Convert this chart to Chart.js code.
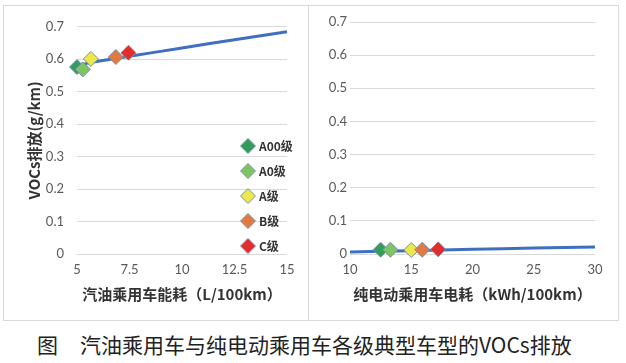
<!DOCTYPE html>
<html>
<head>
<meta charset="utf-8">
<script src="https://cdn.jsdelivr.net/npm/chart.js@4.4.0/dist/chart.umd.min.js"></script>
<style>
  body { margin: 0; background: #fff; width: 626px; height: 363px; position: relative; overflow: hidden; }
  .panel { position: absolute; top: 5px; height: 316px; border: 1px solid #d9d9d9; box-sizing: border-box; }
  .panel canvas { position: absolute; left: 0; top: 0; }
  #caption { position: absolute; left: 37px; top: 329px; font: 21px "Noto Sans CJK SC", sans-serif; color: #222; white-space: nowrap; }
  #caption span { margin-left: 22px; }
</style>
</head>
<body>
<div class="panel" style="left:3px;width:306px"><canvas id="gasChart" width="304" height="314"></canvas></div>
<div class="panel" style="left:308px;width:311px"><canvas id="evChart" width="309" height="314"></canvas></div>
<div id="caption">图<span>汽油乘用车与纯电动乘用车各级典型车型的VOCs排放</span></div>
<script>
// vehicle classes
const classes = ['A00级', 'A0级', 'A级', 'B级', 'C级'];
const classColors = ['#2f9e5a', '#7dc462', '#ebe84c', '#e07a3e', '#e62b2d'];

// gasoline cars: fuel use (L/100km) and VOCs (g/km) per class
const gasUse = [5.0, 5.28, 5.66, 6.85, 7.45];
const gasVOC = [0.576, 0.569, 0.601, 0.607, 0.620];
// gasoline fit line
const gasLineX = [5, 5.5, 6, 7.5, 10, 12.5, 15];
const gasLineY = [0.576, 0.588, 0.594, 0.609, 0.635, 0.660, 0.685];

// electric cars: power use (kWh/100km) and VOCs (g/km) per class
const evUse = [12.5, 13.3, 15.0, 15.9, 17.2];
const evVOC = [0.013, 0.013, 0.012, 0.013, 0.014];
// electric fit line
const evLineX = [10, 15, 20, 25, 30];
const evLineY = [0.006, 0.010, 0.014, 0.018, 0.021];

const yTicks = [0, 0.1, 0.2, 0.3, 0.4, 0.5, 0.6, 0.7];
const gasTicks = [5, 7.5, 10, 12.5, 15];
const evTicks = [10, 15, 20, 25, 30];

const tickFont = { family: 'Lato, "Open Sans", sans-serif', size: 13 };
const titleFont = { family: '"Noto Sans CJK SC", sans-serif', size: 15, weight: 'bold' };

function buildDatasets(xs, ys, lx, ly) {
  const sets = classes.map((c, i) => ({
    type: 'scatter',
    label: c,
    data: [{ x: xs[i], y: ys[i] }],
    pointStyle: 'rectRot',
    pointRadius: 7.5,
    pointHoverRadius: 7.5,
    backgroundColor: classColors[i],
    borderColor: '#7d8ea8',
    borderWidth: 1,
    clip: false,
    order: 5 - i
  }));
  sets.push({
    type: 'line',
    label: 'fit',
    data: lx.map((x, i) => ({ x: x, y: ly[i] })),
    borderColor: '#3f6fbf',
    borderWidth: 3,
    pointRadius: 0,
    tension: 0.3,
    clip: false,
    order: 10
  });
  return sets;
}

// legend drawn inside the plot, right side
const diamondLegend = {
  id: 'diamondLegend',
  afterDraw(chart) {
    const ctx = chart.ctx;
    ctx.save();
    classes.forEach((c, i) => {
      const x = 244, y = 140 + i * 25;
      ctx.beginPath();
      ctx.moveTo(x, y - 7.5); ctx.lineTo(x + 7.5, y); ctx.lineTo(x, y + 7.5); ctx.lineTo(x - 7.5, y);
      ctx.closePath();
      ctx.fillStyle = classColors[i];
      ctx.fill();
      ctx.strokeStyle = '#7d8ea8';
      ctx.lineWidth = 1;
      ctx.stroke();
      ctx.fillStyle = '#333';
      ctx.font = 'bold 12px "Noto Sans CJK SC", sans-serif';
      ctx.textBaseline = 'middle';
      ctx.fillText(c, x + 11, y);
    });
    ctx.restore();
  }
};

function makeChart(id, datasets, xTicks, xTitle, yTitle, yWidth, yPad, padRight, plugins) {
  return new Chart(document.getElementById(id), {
    data: { datasets: datasets },
    options: {
      responsive: false,
      animation: false,
      layout: { padding: { left: 0, right: padRight, top: 16, bottom: 0 } },
      plugins: { legend: { display: false }, tooltip: { enabled: false } },
      scales: {
        x: {
          type: 'linear',
          min: xTicks[0],
          max: xTicks[xTicks.length - 1],
          afterBuildTicks: (s) => { s.ticks = xTicks.map(v => ({ value: v })); },
          ticks: { font: tickFont, color: '#595959', padding: 8, maxRotation: 0 },
          grid: { display: false, drawTicks: false },
          border: { display: false },
          title: { display: true, text: xTitle, font: titleFont, color: '#333', padding: { top: 2, bottom: 17 } },
          afterFit: (s) => { s.height = 66; }
        },
        y: {
          min: 0,
          max: 0.7,
          afterBuildTicks: (s) => { s.ticks = yTicks.map(v => ({ value: v })); },
          ticks: { font: tickFont, color: '#595959', padding: yPad, callback: (v) => String(Math.round(v * 10) / 10) },
          grid: { color: '#d9d9d9', drawTicks: false },
          border: { display: false },
          title: { display: !!yTitle, text: yTitle, font: titleFont, color: '#333', padding: { top: 21, bottom: 0 } },
          afterFit: (s) => { s.width = yWidth; }
        }
      }
    },
    plugins: plugins
  });
}

function loadCharts() {
  makeChart('gasChart', buildDatasets(gasUse, gasVOC, gasLineX, gasLineY), gasTicks,
    '汽油乘用车能耗（L/100km）', 'VOCs排放(g/km)', 73, 13, 21, [diamondLegend]);
  makeChart('evChart', buildDatasets(evUse, evVOC, evLineX, evLineY), evTicks,
    '纯电动乘用车电耗（kWh/100km）', '', 41, 3, 23, []);
}
document.addEventListener('DOMContentLoaded', loadCharts);
</script>
</body>
</html>
